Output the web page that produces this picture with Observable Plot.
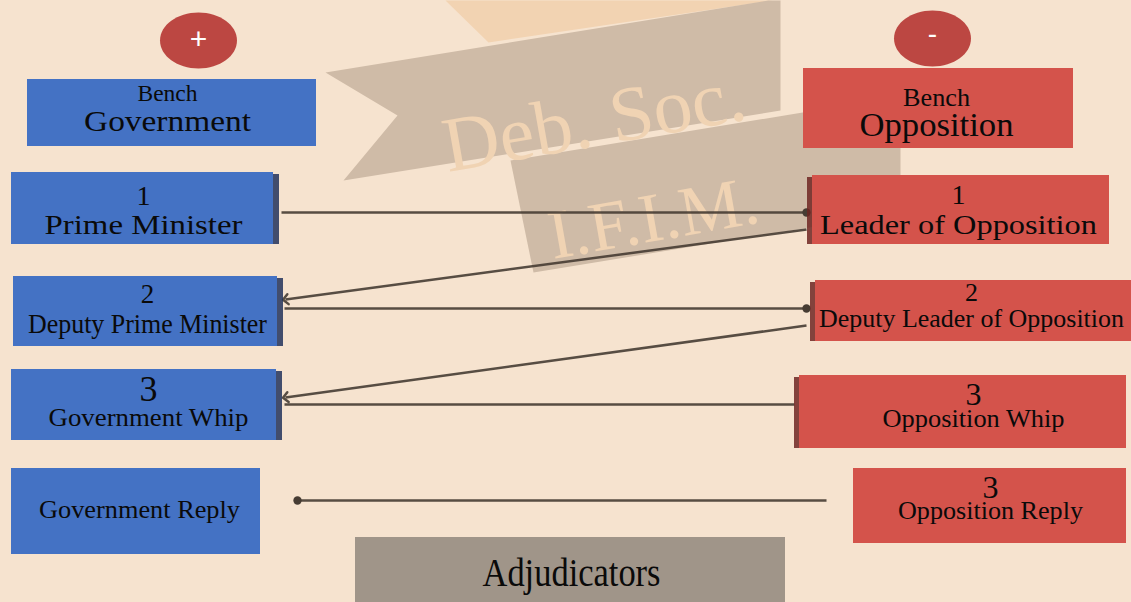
<!DOCTYPE html>
<html>
<head>
<meta charset="utf-8">
<script src="https://cdn.jsdelivr.net/npm/d3@7"></script>
<script src="https://cdn.jsdelivr.net/npm/@observablehq/plot@0.6"></script>
<style>
  html, body { margin: 0; padding: 0; background: #f6e3cf; overflow: hidden; }
  #chart svg { display: block; }
</style>
</head>
<body>
<div id="chart"></div>
<script>
// ---------- content ----------
const benchSide = ["gov", "opp"];
const benchTitle = ["Government", "Opposition"];
const benchSubtitle = ["Bench", "Bench"];
const benchSign = ["+", "-"];
const govOrder = ["1", "2", "3", ""];
const govRoles = ["Prime Minister", "Deputy Prime Minister", "Government Whip", "Government Reply"];
const oppOrder = ["1", "2", "3", "3"];
const oppRoles = ["Leader of Opposition", "Deputy Leader of Opposition", "Opposition Whip", "Opposition Reply"];
const judges = ["Adjudicators"];
const watermarkText = ["Deb. Soc.", "I.F.I.M."];
// speech flow: [from side, from slot, to side, to slot]
const flow = [
  ["gov", 0, "opp", 0], ["opp", 0, "gov", 1], ["gov", 1, "opp", 1],
  ["opp", 1, "gov", 2], ["gov", 2, "opp", 2], ["opp", 3, "gov", 3]
];

// ---------- layout (diagram geometry) ----------
const benchBoxLayout = [
  {x1: 27, x2: 316, y1: 79, y2: 146, cx: 167, subY: 100, subSize: 23, subW: 60, titleY: 130, titleSize: 30, titleW: 167, signX: 198, signY: 40, signTextY: 48, signSize: 30},
  {x1: 803, x2: 1073, y1: 68, y2: 148, cx: 936, subY: 105, subSize: 25, subW: 67, titleY: 135, titleSize: 33, titleW: 154, signX: 932, signY: 38, signTextY: 42, signSize: 28}
];
const govLayout = [
  {x1: 11, x2: 273, y1: 172, y2: 244, cx: 143, numY: 204, numSize: 28, nameY: 233, nameSize: 27, nameW: 198, sh: 1},
  {x1: 13, x2: 277, y1: 276, y2: 346, cx: 147, numY: 302, numSize: 27, nameY: 332, nameSize: 27, nameW: 239, sh: 1},
  {x1: 11, x2: 276, y1: 369, y2: 440, cx: 148, numY: 400, numSize: 36, nameY: 425, nameSize: 26, nameW: 200, sh: 1},
  {x1: 11, x2: 260, y1: 468, y2: 554, cx: 139, numY: 0, numSize: 10, nameY: 517, nameSize: 26, nameW: 201, sh: 0}
];
const oppLayout = [
  {x1: 807, x2: 1109, y1: 175, y2: 244, cx: 958, numY: 203, numSize: 28, nameY: 233, nameSize: 27, nameW: 277, sh: 1},
  {x1: 810, x2: 1131, y1: 280, y2: 341, cx: 971, numY: 300, numSize: 26, nameY: 326, nameSize: 25, nameW: 305, sh: 1},
  {x1: 794, x2: 1126, y1: 375, y2: 448, cx: 973, numY: 404, numSize: 32, nameY: 426, nameSize: 26, nameW: 182, sh: 1},
  {x1: 853, x2: 1126, y1: 468, y2: 543, cx: 990, numY: 497, numSize: 32, nameY: 518, nameSize: 25, nameW: 185, sh: 0}
];
const judgeLayout = [{x1: 355, x2: 785, y1: 537, y2: 602, cx: 571, y: 585, size: 40, w: 178}];
const flowLayout = [
  {x1: 281, y1: 212, x2: 806, y2: 212, head: "dot"},
  {x1: 806, y1: 229, x2: 285, y2: 299, head: "arrow"},
  {x1: 284, y1: 308, x2: 806, y2: 308, head: "dot"},
  {x1: 806, y1: 325, x2: 285, y2: 397, head: "arrow"},
  {x1: 284, y1: 404, x2: 794, y2: 404, head: "none"},
  {x1: 826, y1: 500, x2: 297, y2: 500, head: "dot"}
];
const bannerShapes = [
  {shape: "glow", pts: [[445, 0], [772, 0], [488, 42]]},
  {shape: "upper", pts: [[325, 72], [397, 115], [343, 180], [780, 110], [780, 0], [768, 0]]},
  {shape: "lower", pts: [[510, 160], [533, 272], [900, 212], [900, 96], [790, 114]]}
];
const watermarkLayout = [
  {x: 598, y: 145, size: 78, rotate: -10},
  {x: 657, y: 240, size: 70, rotate: -10}
];

// ---------- build tables ----------
const colors = {gov: "#4472c4", opp: "#d4534b", govShadow: "#22335c", oppShadow: "#6e2622", sign: "#bc4742", judge: "#a09589", ink: "#0a0a0a", line: "#463c33"};
const benches = benchSide.map((s, i) => ({side: s, title: benchTitle[i], sub: benchSubtitle[i], sign: benchSign[i], ...benchBoxLayout[i]}));
const roles = [
  ...govRoles.map((r, i) => ({side: "gov", slot: i, name: r, num: govOrder[i], ...govLayout[i]})),
  ...oppRoles.map((r, i) => ({side: "opp", slot: i, name: r, num: oppOrder[i], ...oppLayout[i]}))
];
const judgeBoxes = judges.map((j, i) => ({name: j, ...judgeLayout[i]}));
const arrows = flow.map((f, i) => ({from: f, ...flowLayout[i]}));
const bannerPts = bannerShapes.flatMap(b => b.pts.map(([x, y]) => ({shape: b.shape, x, y})));
const marks = watermarkText.map((t, i) => ({text: t, ...watermarkLayout[i]}));

const ellipseSymbol = {
  draw(ctx, size) {
    const ry = Math.sqrt(size / Math.PI), rx = ry * 1.375, k = 0.5523;
    ctx.moveTo(rx, 0);
    ctx.bezierCurveTo(rx, k * ry, k * rx, ry, 0, ry);
    ctx.bezierCurveTo(-k * rx, ry, -rx, k * ry, -rx, 0);
    ctx.bezierCurveTo(-rx, -k * ry, -k * rx, -ry, 0, -ry);
    ctx.bezierCurveTo(k * rx, -ry, rx, -k * ry, rx, 0);
    ctx.closePath();
  }
};

const shadowed = roles.filter(d => d.sh);
const lineStyle = {x1: "x1", y1: "y1", x2: "x2", y2: "y2", stroke: colors.line, strokeWidth: 2.5, strokeOpacity: 0.9};

const chart = Plot.plot({
  width: 1131,
  height: 602,
  margin: 0,
  x: {domain: [0, 1131], range: [0, 1131], axis: null},
  y: {domain: [0, 602], range: [0, 602], axis: null},
  style: {background: "#f6e3cf", fontFamily: "'Liberation Serif', serif"},
  marks: [
    // watermark ribbon
    Plot.line(bannerPts.filter(d => d.shape === "glow"), {x: "x", y: "y", z: "shape", fill: "#f2d3b2", stroke: "none", curve: "linear-closed"}),
    Plot.line(bannerPts.filter(d => d.shape !== "glow"), {x: "x", y: "y", z: "shape", fill: "#cfbba7", stroke: "none", curve: "linear-closed"}),
    Plot.text(marks, {x: "x", y: "y", text: "text", rotate: "rotate", fontSize: d => d.size, fill: "#f0d3b3", textAnchor: "middle", lineAnchor: "bottom"}),
    // flow lines
    Plot.link(arrows.filter(d => d.head === "dot"), {...lineStyle, markerEnd: "dot"}),
    Plot.link(arrows.filter(d => d.head === "arrow"), {...lineStyle, markerEnd: "arrow"}),
    Plot.link(arrows.filter(d => d.head === "none"), lineStyle),
    // shadows
    Plot.rect(shadowed, {x1: d => d.x1, x2: d => d.side === "gov" ? d.x2 + 6 : d.x2, y1: d => d.y1 + 2, y2: "y2", fill: d => d.side === "gov" ? colors.govShadow : colors.oppShadow, fillOpacity: 0.85}),
    // boxes
    Plot.rect(benches, {x1: "x1", x2: "x2", y1: "y1", y2: "y2", fill: d => colors[d.side]}),
    Plot.rect(roles, {x1: d => d.sh && d.side === "opp" ? d.x1 + 5 : d.x1, x2: "x2", y1: "y1", y2: "y2", fill: d => colors[d.side]}),
    Plot.rect(judgeBoxes, {x1: "x1", x2: "x2", y1: "y1", y2: "y2", fill: colors.judge}),
    // bench signs
    Plot.dot(benches, {x: "signX", y: "signY", r: 28, symbol: ellipseSymbol, fill: colors.sign, stroke: "none"}),
    Plot.text(benches, {x: "signX", y: d => d.signTextY, text: "sign", fill: "white", fontSize: d => d.signSize, fontWeight: d => d.side === "gov" ? 300 : 700, fontFamily: "'Liberation Sans', sans-serif", lineAnchor: "bottom", textAnchor: "middle"}),
    // bench labels
    Plot.text(benches, {x: "cx", y: "subY", text: "sub", fontSize: d => d.subSize, fill: colors.ink, lineAnchor: "bottom", className: "fit-sub"}),
    Plot.text(benches, {x: "cx", y: "titleY", text: "title", fontSize: d => d.titleSize, fill: colors.ink, lineAnchor: "bottom", className: "fit-title"}),
    // role labels
    Plot.text(roles.filter(d => d.num), {x: "cx", y: "numY", text: "num", fontSize: d => d.numSize, fill: colors.ink, lineAnchor: "bottom"}),
    Plot.text(roles, {x: "cx", y: "nameY", text: "name", fontSize: d => d.nameSize, fill: colors.ink, lineAnchor: "bottom", className: "fit-role"}),
    Plot.text(judgeBoxes, {x: "cx", y: "y", text: "name", fontSize: d => d.size, fill: colors.ink, lineAnchor: "bottom", className: "fit-judge"})
  ]
});

// fit label widths to the reference lettering
const fit = (cls, data, key) => {
  d3.select(chart).selectAll(`g.${cls} text`).each(function (_, i) {
    const w = data[i] && data[i][key];
    if (w) d3.select(this).attr("textLength", w).attr("lengthAdjust", "spacingAndGlyphs");
  });
};
fit("fit-sub", benches, "subW");
fit("fit-title", benches, "titleW");
fit("fit-role", roles, "nameW");
fit("fit-judge", judgeBoxes, "w");

document.getElementById("chart").append(chart);
</script>
</body>
</html>
